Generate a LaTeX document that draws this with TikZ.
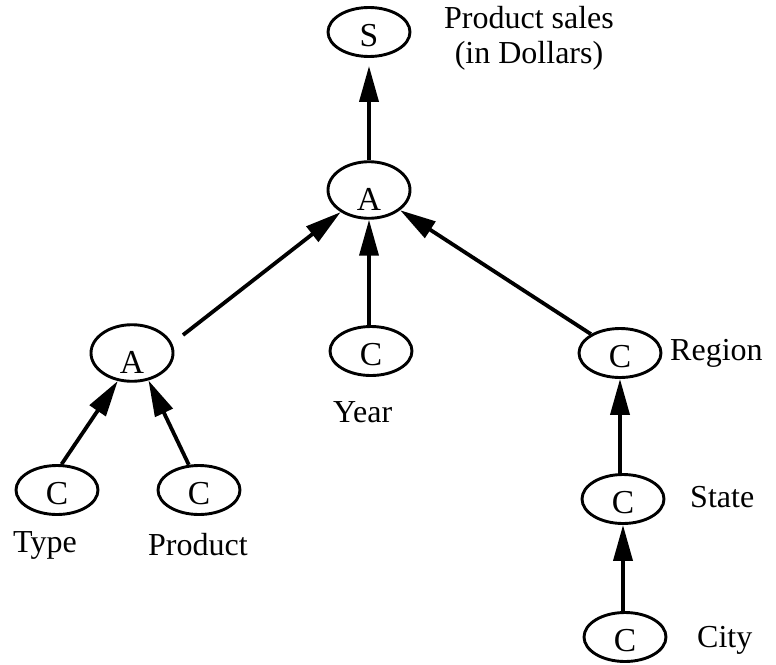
\documentclass[tikz,border=0pt]{standalone}
\usepackage{fontspec}
\setmainfont{Liberation Serif}
\usetikzlibrary{arrows.meta,shapes.geometric}
\begin{document}
\begin{tikzpicture}[x=1pt,y=-1pt,
  every node/.style={font=\fontsize{32}{35}\selectfont},
  oval/.style={ellipse,draw,line width=2.9pt,minimum width=82pt,minimum height=49pt,inner sep=0pt,
    font=\fontsize{33.5}{35}\selectfont,text height=28.5pt,text depth=0pt},
  lowoval/.style={oval,text height=40pt},
  lbl/.style={inner sep=0pt,anchor=west},
  conn/.style={line width=3.8pt,-{Triangle[length=36pt,width=19pt]}}]
\useasboundingbox (0,0) rectangle (776,664);
\node[oval] (S) at (369,32) {S};
\node[align=center,inner sep=0pt] (Slbl) at (529,38) {Product sales\\(in Dollars)};
\node[lowoval] (tA) at (369,190) {A};
\node[lowoval] (lA) at (132,353) {A};
\node[oval] (mC) at (371,351) {C};
\node[oval] (rC) at (620,353) {C};
\node[oval] (tyC) at (57,490) {C};
\node[oval] (pC) at (199,490) {C};
\node[oval] (sC) at (623,499) {C};
\node[oval] (cC) at (625,637) {C};
\node[lbl] (year) at (333,412) {Year};
\node[lbl] (region) at (670,353) {Region};
\node[lbl] (type) at (13,545) {Type};
\node[lbl] (product) at (148,545) {Product};
\node[lbl] (state) at (690,497) {State};
\node[lbl] (city) at (697,640) {City};
\coordinate (lAout) at (183,335);
\draw[conn,shorten >=8pt] (tA.north) -- (S.south);
\draw[conn] (lAout) -- (tA);
\draw[conn] (mC.north -| tA.south) -- (tA.south);
\draw[conn] (rC) -- (tA);
\draw[conn] (tyC.80) -- (lA.243);
\draw[conn] (pC.112) -- (lA.301);
\draw[conn] (sC.north -| rC.south) -- (rC.south);
\draw[conn] (cC.north -| sC.south) -- (sC.south);
\end{tikzpicture}
\end{document}
